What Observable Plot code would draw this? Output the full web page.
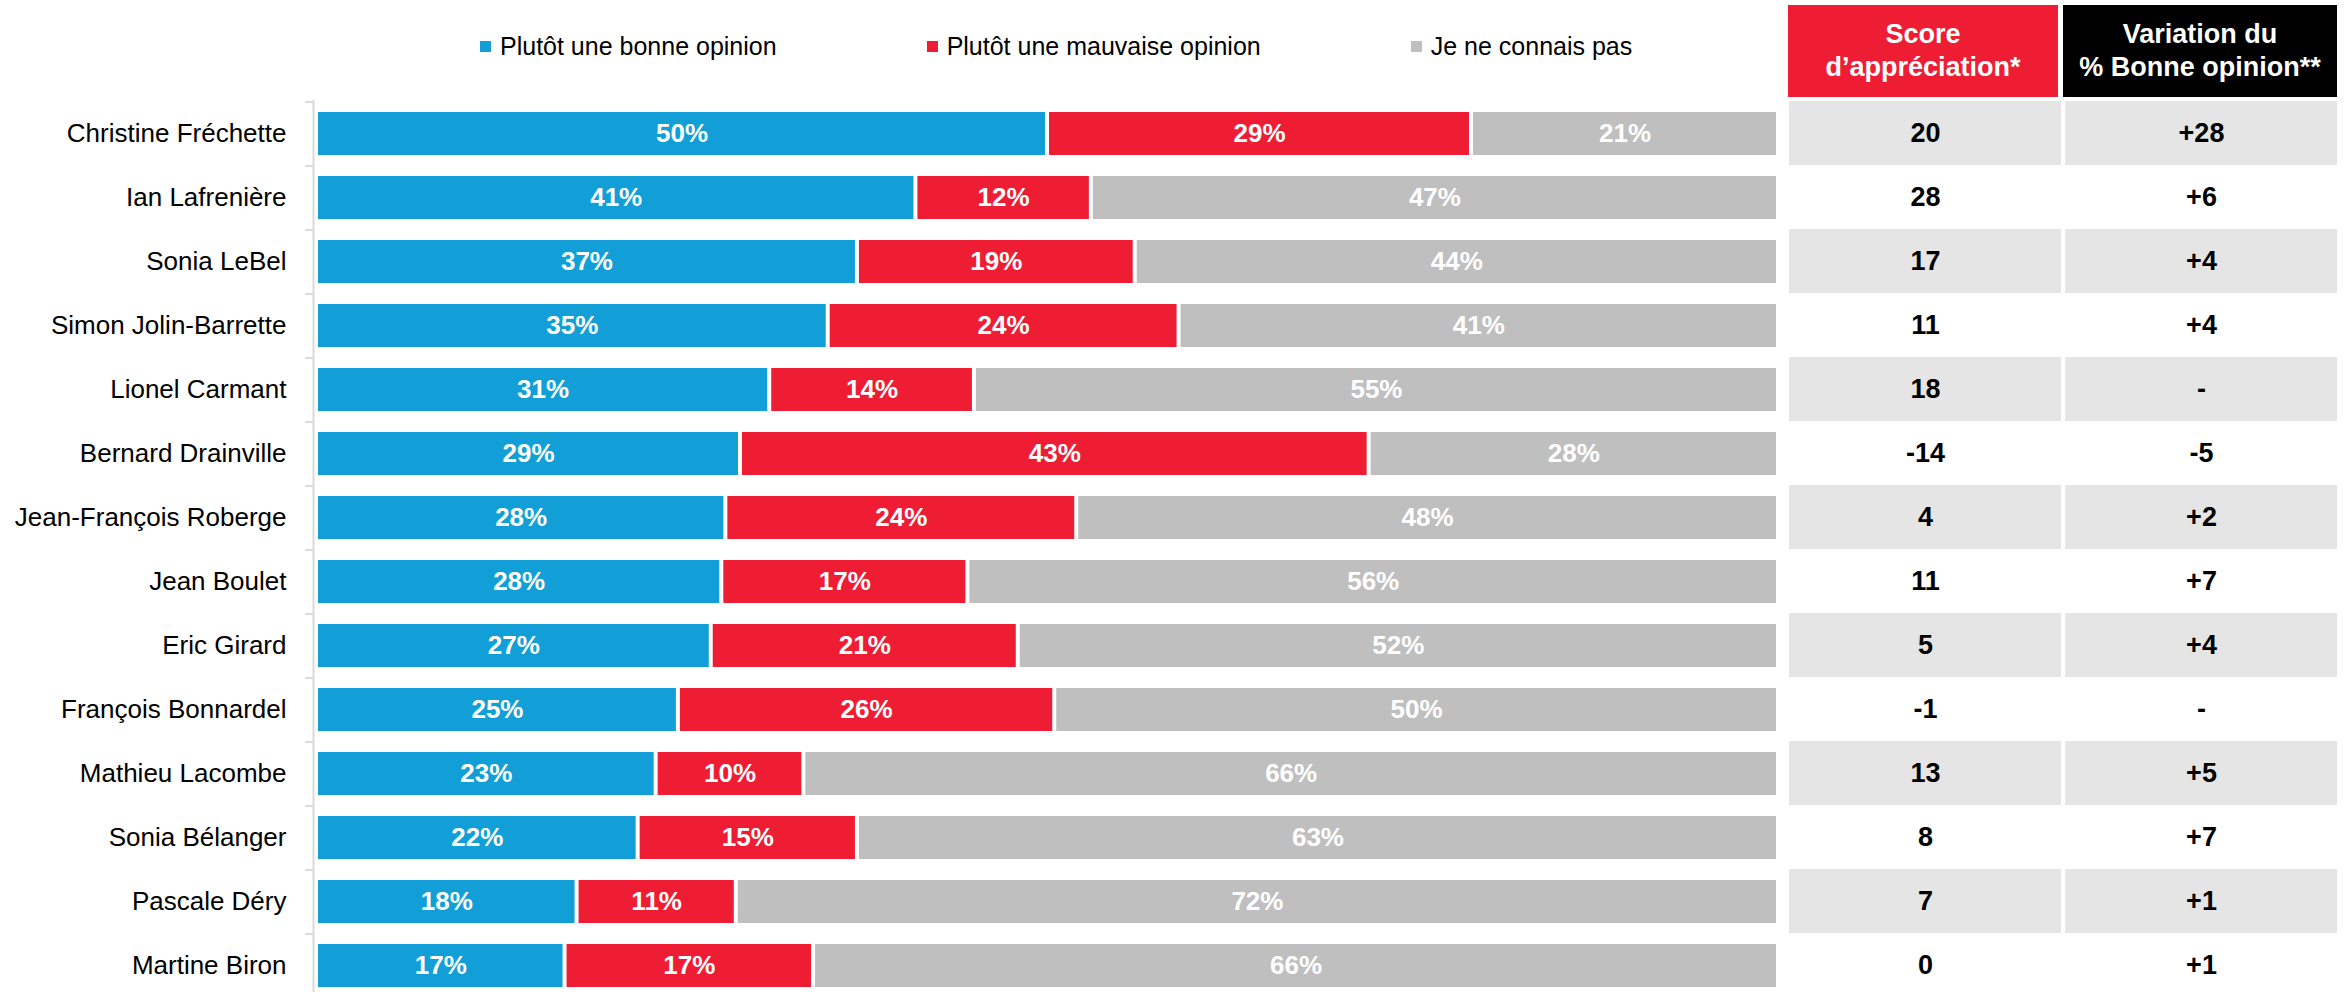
<!DOCTYPE html>
<html><head><meta charset="utf-8">
<script src="https://cdn.jsdelivr.net/npm/d3@7"></script>
<script src="https://cdn.jsdelivr.net/npm/@observablehq/plot@0.6"></script>
<style>
html,body{margin:0;padding:0;background:#fff;overflow:hidden;}
#wrap{position:relative;width:2344px;height:992px;overflow:hidden;font-family:"Liberation Sans",Arial,sans-serif;}
#legend{position:absolute;left:480px;top:0;height:92px;display:flex;justify-content:flex-start;align-items:center;gap:150px;font-size:25px;color:#000;}
.item{display:flex;align-items:center;white-space:nowrap;}
.sw{width:11px;height:11px;margin-right:9px;display:inline-block;}
.hdr{position:absolute;top:5px;height:92px;display:flex;align-items:center;justify-content:center;text-align:center;color:#fff;font-weight:bold;font-size:27px;line-height:33px;}
#bars{position:absolute;left:0;top:100px;}
#table{position:absolute;left:1788px;top:100px;}
</style></head>
<body><div id="wrap">
<div id="legend"></div>
<div id="h1" class="hdr" style="left:1788px;width:270px;"></div>
<div id="h2" class="hdr" style="left:2063px;width:274px;"></div>
<div id="bars"></div>
<div id="table"></div>
</div>
<script>
const names = ["Christine Fréchette","Ian Lafrenière","Sonia LeBel","Simon Jolin-Barrette","Lionel Carmant","Bernard Drainville","Jean-François Roberge","Jean Boulet","Eric Girard","François Bonnardel","Mathieu Lacombe","Sonia Bélanger","Pascale Déry","Martine Biron"];
const categories = ["Plutôt une bonne opinion","Plutôt une mauvaise opinion","Je ne connais pas"];
const colors = ["#129fd7","#ee1d34","#bfbfbf"];
const bonne = [50,41,37,35,31,29,28,28,27,25,23,22,18,17];
const mauvaise = [29,12,19,24,14,43,24,17,21,26,10,15,11,17];
const inconnu = [21,47,44,41,55,28,48,56,52,50,66,63,72,66];
const score = [20,28,17,11,18,-14,4,11,5,-1,13,8,7,0];
const variation = ["+28","+6","+4","+4","-","-5","+2","+7","+4","-","+5","+7","+1","+1"];
const headers = ["Score<br>d’appréciation*","Variation du<br>% Bonne opinion**"];
const headerColors = ["#ee1d34","#000000"];
const columns = ["score","variation"];

// legend
const legend = document.getElementById("legend");
categories.forEach((c,i)=>{
  const it = document.createElement("div"); it.className="item";
  it.innerHTML = `<span class="sw" style="background:${colors[i]}"></span><span>${c}</span>`;
  legend.appendChild(it);
});
// headers
["h1","h2"].forEach((id,i)=>{
  const el=document.getElementById(id);
  el.innerHTML=headers[i]; el.style.background=headerColors[i];
});

const series = [bonne, mauvaise, inconnu];
const segs = [];
names.forEach((n,i)=>categories.forEach((c,j)=>segs.push({name:n, cat:c, value:series[j][i]})));

const H = 898.5;
const step = H / names.length;
const font = "Liberation Sans, Arial, sans-serif";

const bars = Plot.plot({
  width: 1790, height: H,
  marginLeft: 316, marginRight: 12, marginTop: 0, marginBottom: 0,
  style: {fontFamily: font, color: "#000", background: "transparent", overflow: "visible"},
  x: {domain: [0,1], axis: null},
  y: {domain: names, paddingInner: 0.335, paddingOuter: 0.1675, axis: null},
  color: {domain: categories, range: colors},
  marks: [
    Plot.ruleX([0], {stroke: "#d9d9d9", strokeWidth: 2, dx: -3}),
    Plot.axisY({tickSize: 8, tickFormat: () => "", label: null, dx: -3, dy: -step/2, stroke: "#d9d9d9", strokeWidth: 2}),
    Plot.axisY({tickSize: 0, tickPadding: 30, fontSize: 26, label: null, fill: "#000"}),
    Plot.barX(segs, Plot.stackX({x: "value", y: "name", fill: "cat", offset: "normalize", insetLeft: 2, insetRight: 2})),
    Plot.text(segs, Plot.stackX({x: "value", y: "name", z: "cat", offset: "normalize", text: d => d.value + "%", fill: "white", fontWeight: "bold", fontSize: 26}))
  ]
});
document.getElementById("bars").appendChild(bars);

const cells = [];
names.forEach((n,i)=>{
  cells.push({name:n, col:"score", label:String(score[i]), i});
  cells.push({name:n, col:"variation", label:variation[i], i});
});

const table = Plot.plot({
  width: 549, height: H,
  marginLeft: 0, marginRight: 0, marginTop: 0, marginBottom: 0,
  style: {fontFamily: font, color: "#000", background: "transparent", overflow: "visible"},
  x: {domain: columns, paddingInner: 0.0163, paddingOuter: 0, axis: null},
  y: {domain: names, paddingInner: 0, paddingOuter: 0, axis: null},
  marks: [
    Plot.cell(cells, {x: "col", y: "name", fill: d => d.i % 2 === 0 ? "#e5e5e5" : "#ffffff"}),
    Plot.text(cells, {x: "col", y: "name", text: "label", fill: "#000", fontWeight: "bold", fontSize: 27})
  ]
});
document.getElementById("table").appendChild(table);
</script>
</body></html>
